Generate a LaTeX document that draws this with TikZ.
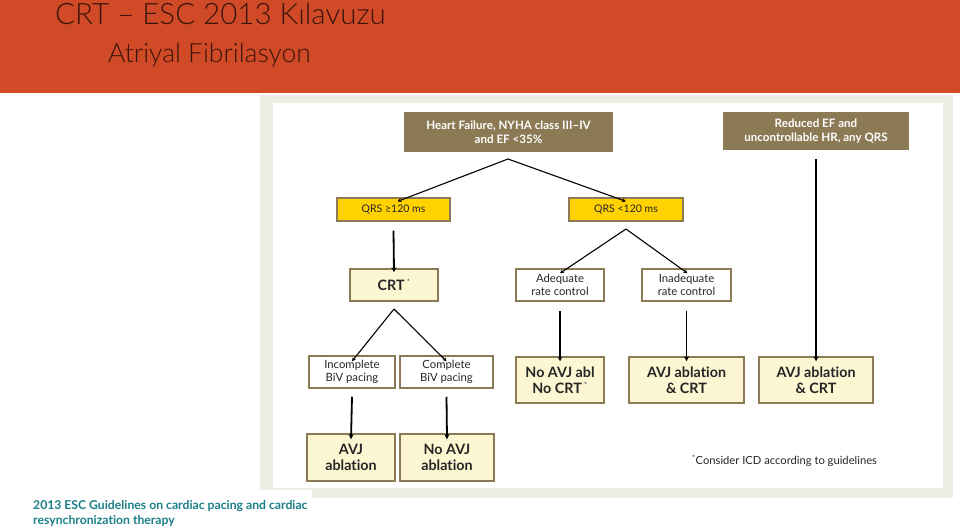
\documentclass[tikz,border=0pt]{standalone}
\usepackage{fontspec}
\setmainfont{Lato}[Ligatures=NoCommon]
\newfontfamily\titlefont{Lato Light}[Ligatures=NoCommon]
\usetikzlibrary{arrows.meta}
\definecolor{banner}{HTML}{D04A28}
\definecolor{titletxt}{HTML}{3A1509}
\definecolor{panel}{HTML}{EEEDE3}
\definecolor{brownbox}{HTML}{8C7A55}
\definecolor{qrsyellow}{HTML}{FFD200}
\definecolor{lightfill}{HTML}{FCF6D3}
\definecolor{boxline}{HTML}{8C7A55}
\definecolor{txt}{HTML}{262626}
\definecolor{teal}{HTML}{1A7F88}
\newcommand{\astmark}{\textsuperscript{\normalfont\fontsize{7}{7}\selectfont *}}
\tikzset{
  headbox/.style={fill=brownbox, draw=none, text=white, font=\fontsize{11.6}{13.5}\selectfont\bfseries, align=center, inner sep=0pt},
  qrsbox/.style={fill=qrsyellow, draw=boxline, line width=1.2pt, text=txt, font=\fontsize{10.5}{12}\selectfont, inner sep=0pt, minimum height=23pt},
  plainbox/.style={fill=white, draw=boxline, line width=1.5pt, text=txt, font=\fontsize{11.3}{12.3}\selectfont, align=center, inner sep=0pt, minimum height=32pt},
  resbox/.style={fill=lightfill, draw=boxline, line width=1.5pt, text=txt, font=\fontsize{14.3}{15.8}\selectfont\bfseries, align=center, inner sep=0pt},
  arr/.style={draw=black, line width=1.1pt, -{Stealth[length=4pt,width=4pt]}},
  thickarr/.style={draw=black, line width=1.8pt, -{Stealth[length=5pt,width=5pt]}}
}
\begin{document}
\begin{tikzpicture}[x=1pt,y=-1pt]
\useasboundingbox (0,0) rectangle (960,527);
\fill[white] (0,0) rectangle (960,527);
% banner
\fill[banner] (0,0) rectangle (960,93);
\node[anchor=base west, text=titletxt, font=\titlefont\fontsize{29.5}{30}\selectfont, inner sep=0pt] (title) at (55,25) {CRT – ESC 2013 Kılavuzu};
\node[anchor=base west, text=titletxt, font=\titlefont\fontsize{26.5}{27}\selectfont, inner sep=0pt] (subtitle) at (108,63) {Atriyal Fibrilasyon};
% panel
\fill[panel] (260,95) rectangle (953,498);
\fill[white] (273,103) rectangle (943,488);
% nodes
\node[headbox, minimum width=209pt, minimum height=40pt] (hf) at (508.5,132) {Heart Failure, NYHA class III–IV\\and EF <35\%};
\node[headbox, minimum width=186pt, minimum height=38pt] (red) at (816,131) {Reduced EF and\\uncontrollable HR, any QRS};
\node[qrsbox, minimum width=113pt] (q1) at (393.5,209.5) {QRS ≥120 ms};
\node[qrsbox, minimum width=114pt] (q2) at (626,209.5) {QRS <120 ms};
\node[resbox, minimum width=88pt, minimum height=32pt] (crt) at (394,285) {CRT\,\astmark};
\node[plainbox, minimum width=88pt] (adq) at (560,285) {Adequate\\rate control};
\node[plainbox, minimum width=89pt] (inadq) at (686.5,285) {Inadequate\\rate control};
\node[plainbox, minimum width=86pt] (inc) at (352,372) {Incomplete\\BiV pacing};
\node[plainbox, minimum width=93pt] (comp) at (446.5,372) {Complete\\BiV pacing};
\node[resbox, minimum width=88pt, minimum height=46pt] (noavj) at (560,380) {No AVJ abl\\No CRT\,\astmark};
\node[resbox, minimum width=115pt, minimum height=46pt] (avjcrt) at (686.5,380) {AVJ ablation\\\& CRT};
\node[resbox, minimum width=114pt, minimum height=46pt] (avjcrt2) at (816,380) {AVJ ablation\\\& CRT};
\node[resbox, minimum width=88pt, minimum height=47pt] (avj) at (351,457.5) {AVJ\\ablation};
\node[resbox, minimum width=94pt, minimum height=47pt] (noavj2) at (447,457.5) {No AVJ\\ablation};
\node[anchor=west, text=txt, font=\fontsize{11.2}{13}\selectfont, inner sep=0pt] (foot) at (692,461) {\astmark Consider ICD according to guidelines};
% branch points
\coordinate (hfap) at (508,159);
\coordinate (q2ap) at (626,229);
\coordinate (crtap) at (394,309);
% connectors
\draw[arr] (hfap) -- ([xshift=4pt,yshift=-4pt]q1.north);
\draw[arr] (hfap) -- ([yshift=-4pt]q2.north);
\draw[thickarr] ([yshift=-9pt]red.south) -- ([yshift=-5pt]avjcrt2.north);
\draw[thickarr] ([yshift=-9pt]q1.south) -- ([yshift=-4pt]crt.north);
\draw[arr] (q2ap) -- ([yshift=-5pt]adq.north);
\draw[arr] (q2ap) -- ([xshift=1pt,yshift=-5pt]inadq.north);
\draw[arr] (crtap) -- ([yshift=-6pt]inc.north);
\draw[arr] (crtap) -- ([yshift=-6pt]comp.north);
\draw[arr] ([yshift=-9pt]adq.south) -- ([yshift=-5pt]noavj.north);
\draw[thickarr] ([yshift=-9pt]inadq.south) -- ([yshift=-5pt]avjcrt.north);
\draw[thickarr] ([yshift=-8pt]inc.south) -- ([yshift=-6pt]avj.north);
\draw[thickarr] ([yshift=-8pt]comp.south) -- ([yshift=-6pt]noavj2.north);
% footer
\fill[white] (0,490) rectangle (312,527);
\node[anchor=north west, text=teal, font=\fontsize{12.2}{15.5}\selectfont\bfseries, align=left, inner sep=0pt] (src) at (33,500) {2013 ESC Guidelines on cardiac pacing and cardiac\\resynchronization therapy};
\end{tikzpicture}
\end{document}
